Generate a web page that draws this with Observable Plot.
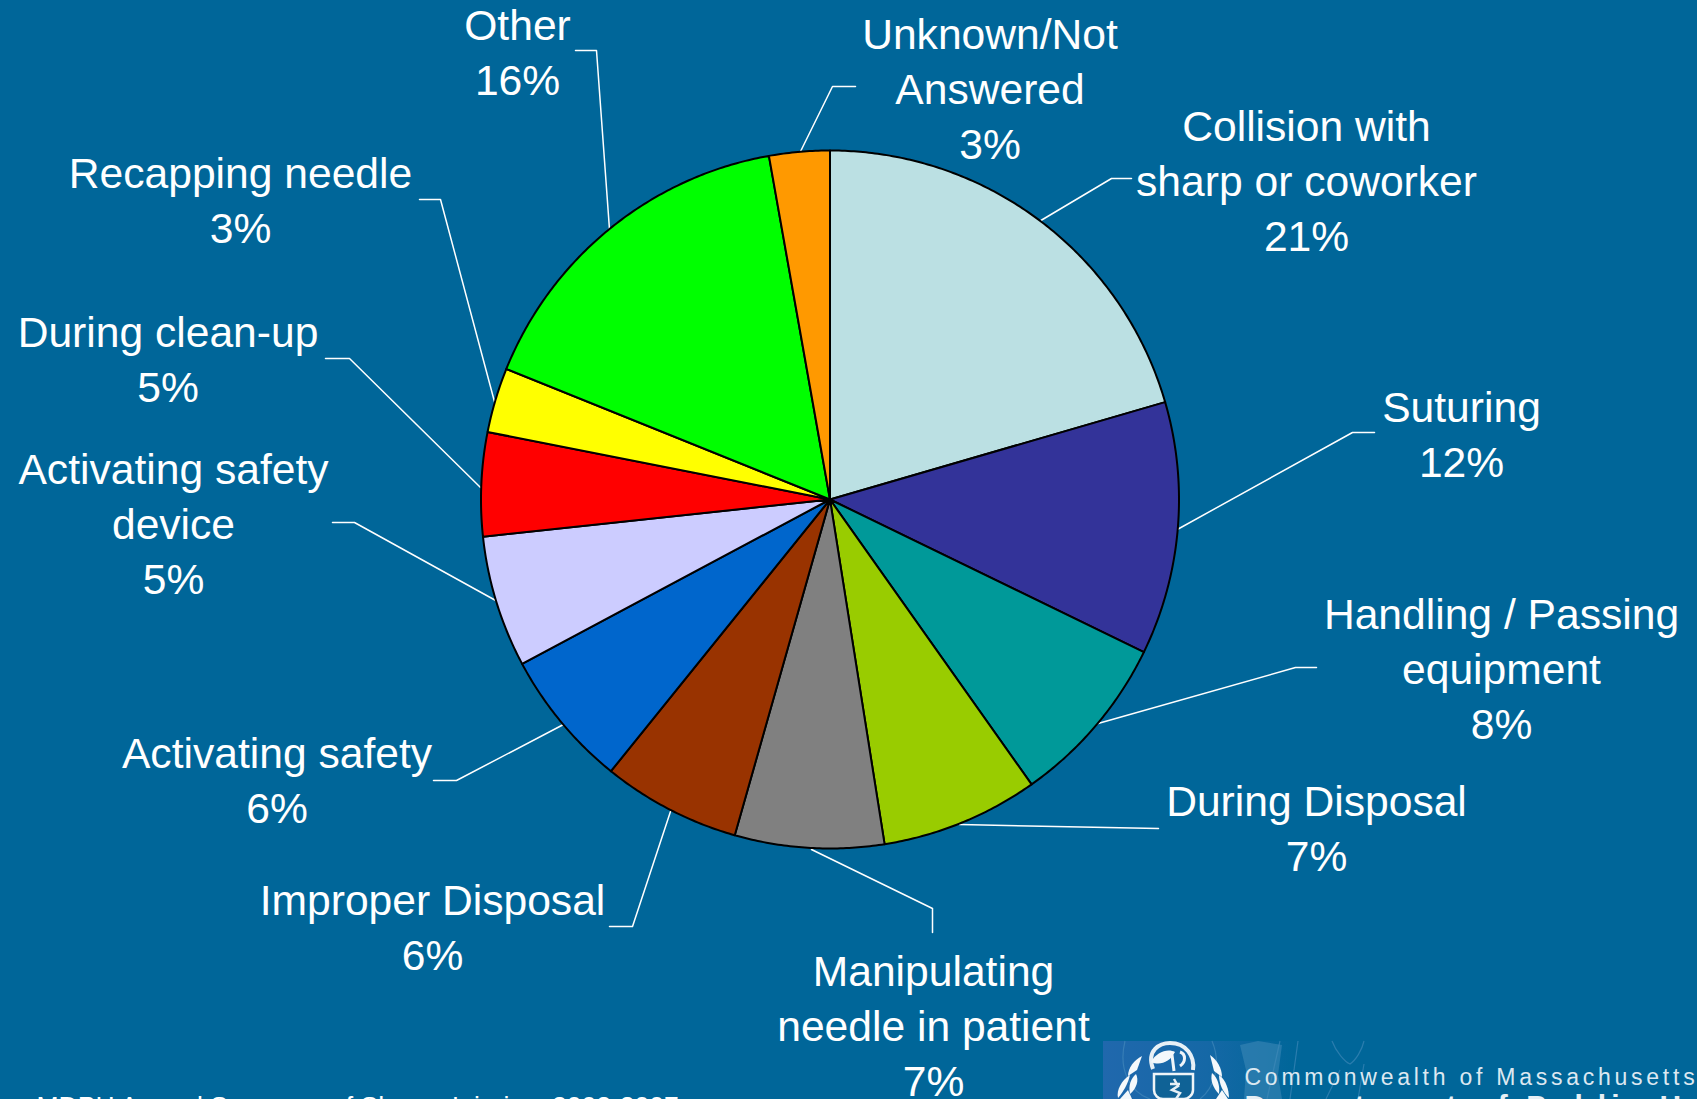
<!DOCTYPE html>
<html><head><meta charset="utf-8">
<script src="https://cdn.jsdelivr.net/npm/d3@7"></script>
<script src="https://cdn.jsdelivr.net/npm/@observablehq/plot@0.6"></script>
<style>html,body{margin:0;padding:0;background:#006699;overflow:hidden}svg{display:block}
.logoA text{letter-spacing:3.75px}.logoB text{letter-spacing:5px}</style>
</head><body><div id="chart"></div>
<script>
const categories = ["Collision with\nsharp or coworker","Suturing","Handling / Passing\nequipment","During Disposal","Manipulating\nneedle in patient","Improper Disposal","Activating safety","Activating safety\ndevice","During clean-up","Recapping needle","Other","Unknown/Not\nAnswered"];
const sliceValues = [20.5,11.7,8.0,7.3,6.9,6.4,6.4,6.1,4.8,3.0,16.1,2.8];
const percentLabels = ["21%","12%","8%","7%","7%","6%","6%","5%","5%","3%","16%","3%"];
const sliceColors = ["#BBE0E3","#333399","#009999","#99CC00","#808080","#993300","#0066CC","#CCCCFF","#FF0000","#FFFF00","#00FF00","#FF9900"];
const footerText = ["MDPH Annual Summary of Sharps Injuries, 2002-2007"];
const logoLines = ["Commonwealth of Massachusetts","Department of Public Health"];

// Layout (page pixels), separate from the data
const W = 1697, H = 1099, C = [829.5,499], R = 349, FS = 42.6, LH = 55;
const labelLayout = [
  {x:1306,y:127,leader:[[1037,222],[1111,178],[1131,178]]},
  {x:1461,y:408,leader:[[1175,530],[1352,432],[1374,432]]},
  {x:1501,y:615,leader:[[1094,724],[1295,667],[1316,667]]},
  {x:1316,y:802,leader:[[959,824],[1158,828]]},
  {x:933,y:972,leader:[[811,849],[932,908],[932,932]]},
  {x:432,y:901,leader:[[670,811],[632,926],[609,926]]},
  {x:276.5,y:754,leader:[[563,724],[456,780],[433,780]]},
  {x:173,y:470,leader:[[497,601],[354,522],[332,522]]},
  {x:167.5,y:333,leader:[[480,487],[349,358],[325,358]]},
  {x:240,y:174,leader:[[495,405],[440,199],[419,199]]},
  {x:517,y:26,leader:[[609,229],[596,50],[575,50]]},
  {x:989.5,y:35,leader:[[799,153],[832,86],[855,86]]}
];

let cum = 0;
const total = d3.sum(sliceValues);
const sliceRows = [], leaderRows = [], textRows = [];
const pt = (t,r)=>[C[0]+r*Math.sin(t), C[1]-r*Math.cos(t)];
sliceValues.forEach((v,i)=>{
  const a0 = cum/total*2*Math.PI; cum += v; const a1 = cum/total*2*Math.PI;
  const n = Math.max(2,Math.ceil((a1-a0)*R/3));
  const row = (p)=>({i,x:p[0],y:p[1]});
  sliceRows.push(row(C));
  for(let k=0;k<=n;k++) sliceRows.push(row(pt(a0+(a1-a0)*k/n,R)));
  sliceRows.push(row(C));
  labelLayout[i].leader.forEach(p=>leaderRows.push({i,x:p[0],y:p[1]}));
  const lines = categories[i].split("\n").concat(percentLabels[i]);
  lines.forEach((s,k)=>textRows.push({s,x:labelLayout[i].x,y:labelLayout[i].y+k*LH}));
});
const sliceFill = d3.scaleOrdinal(sliceValues.map((_,i)=>i),sliceColors);

// Agency logo artwork behind the footer text (a picture in the reference, not data)
function logoArt(){
  const svg = `<g xmlns="http://www.w3.org/2000/svg">
    <defs><linearGradient id="band" x1="0" x2="1" y1="0" y2="0">
      <stop offset="0" stop-color="#2068ad"/><stop offset="0.55" stop-color="#1568a6"/><stop offset="1" stop-color="#006699"/>
    </linearGradient></defs>
    <rect x="1103" y="1041" width="190" height="58" fill="url(#band)"/>
    <g fill="none" stroke="#4d8fc0" stroke-opacity=".55" stroke-width="1.2">
      <path d="M1125 1041C1118 1070 1130 1092 1150 1099"/>
      <path d="M1212 1041C1222 1065 1214 1088 1200 1099"/>
      <path d="M1280 1041L1267 1099"/><path d="M1298 1041L1290 1099"/>
      <path d="M1332 1041C1336 1052 1345 1062 1350 1064C1356 1060 1362 1050 1364 1041"/>
      <path d="M1364 1064L1358 1099"/><path d="M1340 1070L1326 1099"/>
    </g>
    <path d="M1240 1045L1258 1041L1282 1045L1278 1075L1282 1099L1244 1099L1246 1070Z" fill="#3f8ab8" fill-opacity=".55"/>
    <path d="M1153 1069C1146 1050 1160 1043 1170 1043C1186 1043 1195 1056 1193 1070" fill="none" stroke="#e8f0f6" stroke-width="4"/>
    <path d="M1151 1062C1156 1052 1168 1048 1175 1052C1170 1062 1160 1066 1151 1062Z" fill="#f4f8fb"/>
    <path d="M1172 1055L1174 1071M1180 1052C1186 1054 1186 1062 1180 1066" fill="none" stroke="#f0f5f9" stroke-width="3"/>
    <path d="M1154 1074H1193V1090C1193 1095 1188 1099 1184 1099H1163C1158 1099 1154 1095 1154 1090Z" fill="#0f6296" stroke="#eef4f8" stroke-width="2.5"/>
    <path d="M1174 1079L1178 1086L1172 1090L1180 1093L1176 1099M1170 1084L1180 1084" fill="none" stroke="#e6eff5" stroke-width="2.5"/>
    <g fill="#f4f8fb">
      <path d="M1142 1056L1137 1070L1128 1076C1128 1068 1134 1060 1142 1056Z"/>
      <path d="M1130 1075C1128 1084 1123 1092 1118 1098C1116 1090 1122 1080 1130 1075Z"/>
      <path d="M1136 1074C1139 1080 1137 1088 1130 1094C1128 1086 1131 1078 1136 1074Z"/>
      <path d="M1128 1090L1132 1099H1120Z"/>
      <path d="M1210 1055C1217 1060 1222 1068 1222 1077L1214 1071Z"/>
      <path d="M1219 1075C1226 1080 1229 1090 1229 1098C1223 1092 1219 1084 1219 1075Z"/>
      <path d="M1212 1073C1218 1078 1220 1086 1219 1094C1213 1088 1210 1080 1212 1073Z"/>
      <path d="M1222 1090L1228 1099H1216Z"/>
    </g></g>`;
  const g = new DOMParser().parseFromString(`<svg xmlns="http://www.w3.org/2000/svg">${svg}</svg>`,"image/svg+xml").documentElement.firstElementChild;
  return document.importNode(g,true);
}

const plot = Plot.plot({
  width:W,height:H,margin:0,
  style:{background:"#006699",fontFamily:"'Liberation Sans',Arial,sans-serif"},
  x:{domain:[0,W],range:[0,W],axis:null},
  y:{domain:[0,H],range:[0,H],axis:null},
  marks:[
    logoArt,
    Plot.line(leaderRows,{x:"x",y:"y",z:"i",stroke:"white",strokeWidth:1.5,curve:"linear"}),
    Plot.line(sliceRows,{x:"x",y:"y",z:"i",fill:d=>sliceFill(d.i),stroke:"black",strokeWidth:2,strokeLinejoin:"round",curve:"linear"}),
    Plot.text(textRows,{x:"x",y:"y",text:"s",fill:"white",fontSize:FS,textAnchor:"middle",lineAnchor:"middle"}),
    Plot.text(footerText,{x:[36],y:[1106],text:d=>d,fill:"white",fontSize:26.5,textAnchor:"start",lineAnchor:"middle"}),
    Plot.text([logoLines[0]],{x:[1244],y:[1077],text:d=>d,fill:"#dce8f1",fontSize:23,textAnchor:"start",lineAnchor:"middle",className:"logoA"}),
    Plot.text([logoLines[1]],{x:[1244],y:[1106],text:d=>d,fill:"#e6eff5",fontSize:30,fontWeight:"bold",textAnchor:"start",lineAnchor:"middle",className:"logoB"})
  ]
});
document.getElementById("chart").append(plot);
</script></body></html>
